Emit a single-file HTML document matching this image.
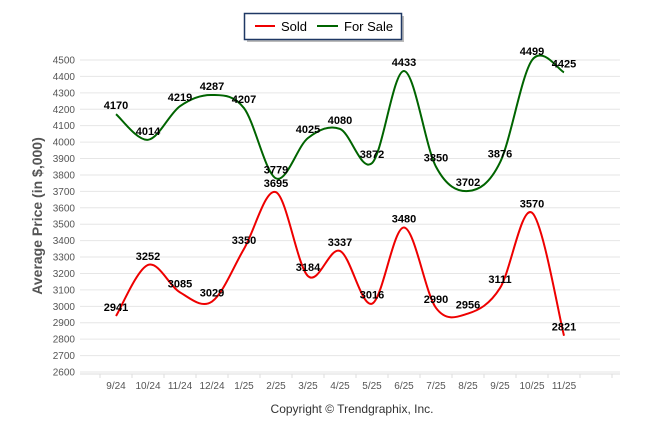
<!DOCTYPE html>
<html><head><meta charset="utf-8"><style>
body{margin:0;background:#fff;}
svg{display:block;font-family:"Liberation Sans",Arial,sans-serif;}
</style></head><body>
<svg id="c" width="646" height="434">
<g id="grid"></g>
<g id="yt"></g>
<g id="xt"></g>
<g id="series"></g>
<g id="labels"></g>
<text x="42" y="216" transform="rotate(-90 42 216)" text-anchor="middle" font-size="14" font-weight="bold" fill="#555">Average Price (in $,000)</text>
<text x="352" y="413" text-anchor="middle" font-size="12" fill="#333">Copyright © Trendgraphix, Inc.</text>
<g>
<rect x="247" y="16" width="157" height="26" fill="#bbb"/>
<rect x="244.5" y="13.5" width="157" height="26" fill="#fff" stroke="#1f3864" stroke-width="1.5"/>
<line x1="255" y1="26" x2="275" y2="26" stroke="#e00" stroke-width="2"/>
<text x="281" y="31" font-size="13" fill="#000">Sold</text>
<line x1="317" y1="26" x2="338" y2="26" stroke="#006400" stroke-width="2"/>
<text x="344" y="31" font-size="13" fill="#000">For Sale</text>
</g>
</svg>
<script>
const months=["9/24","10/24","11/24","12/24","1/25","2/25","3/25","4/25","5/25","6/25","7/25","8/25","9/25","10/25","11/25"];
const sold=[2941,3252,3085,3029,3350,3695,3184,3337,3016,3480,2990,2956,3111,3570,2821];
const forSale=[4170,4014,4219,4287,4207,3779,4025,4080,3872,4433,3850,3702,3876,4499,4425];
const yTicks=[2600,2700,2800,2900,3000,3100,3200,3300,3400,3500,3600,3700,3800,3900,4000,4100,4200,4300,4400,4500];
const NS="http://www.w3.org/2000/svg";
const yScale=v=>60+(4500-v)*312/1900;
const xScale=i=>116+i*32;
function mk(tag,attrs,parent){const e=document.createElementNS(NS,tag);for(const k in attrs)e.setAttribute(k,attrs[k]);parent.appendChild(e);return e;}
const grid=document.getElementById('grid'),yt=document.getElementById('yt'),xt=document.getElementById('xt'),ser=document.getElementById('series'),lab=document.getElementById('labels');
yTicks.forEach(t=>{
  const y=yScale(t);
  const l=mk('line',{x1:80,x2:620,y1:y,y2:y,stroke:'#e6e6e6','stroke-width':1},grid);
  
  
  const tx=mk('text',{x:75,y:y+3.5,'text-anchor':'end','font-size':10,fill:'#555'},yt);
  tx.textContent=t;
  
  
});
const ax=mk('line',{x1:80,x2:620,y1:374,y2:374,stroke:'#ddd'},xt);


for(let i=-1;i<months.length+1;i++){
  const x=xScale(i)+16;
  const tk=mk('line',{x1:x,x2:x,y1:374,y2:378,stroke:'#ddd'},xt);
  
  
}
months.forEach((m,i)=>{
  const tx=mk('text',{x:xScale(i),y:389,'text-anchor':'middle','font-size':10,fill:'#555'},xt);
  tx.textContent=m;
  
  
});
function path(vals){
  const p=vals.map((v,i)=>[xScale(i),yScale(v)]);
  let d=`M${p[0][0]},${p[0][1]}`;
  for(let i=0;i<p.length-1;i++){
    const p0=p[i-1]||p[i],p1=p[i],p2=p[i+1],p3=p[i+2]||p[i+1];
    const t=0.5/3*2;
    d+=` C${p1[0]+(p2[0]-p0[0])*t/2},${p1[1]+(p2[1]-p0[1])*t/2} ${p2[0]-(p3[0]-p1[0])*t/2},${p2[1]-(p3[1]-p1[1])*t/2} ${p2[0]},${p2[1]}`;
  }
  return d;
}
const s1=mk('path',{d:path(forSale),fill:'none',stroke:'#006400','stroke-width':2},ser);


const s2=mk('path',{d:path(sold),fill:'none',stroke:'#e00','stroke-width':2},ser);


[[sold,'sold-value-label'],[forSale,'for-sale-value-label']].forEach(([arr,n])=>{
  arr.forEach((v,i)=>{
    const tx=mk('text',{x:xScale(i),y:yScale(v)-5,'text-anchor':'middle','font-size':11,'font-weight':'bold',fill:'#000'},lab);
    tx.textContent=v;
    
    
  });
});
</script>
</body></html>
